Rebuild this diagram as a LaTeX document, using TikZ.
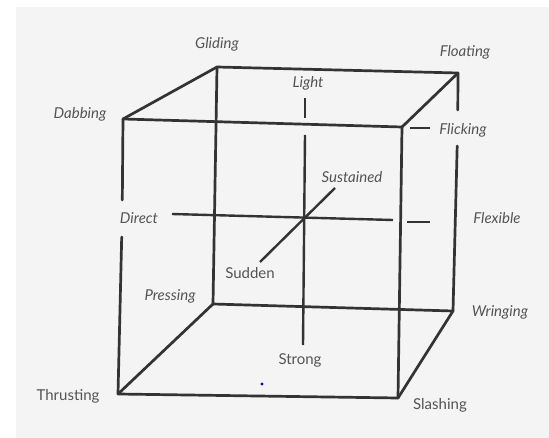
\documentclass[tikz,border=0pt]{standalone}
\usepackage{fontspec}
\setmainfont{Lato}
\usepackage{tikz}
\usetikzlibrary{calc}
\definecolor{edgegray}{rgb}{0.2, 0.2, 0.2}
\definecolor{labelgray}{rgb}{0.33, 0.33, 0.33}
\definecolor{paper}{rgb}{0.955, 0.955, 0.955}
\tikzstyle{edge} = [line width=2.7pt, edgegray, line cap=round]
\tikzstyle{axis} = [line width=2.4pt, edgegray]
\tikzstyle{effort} = [inner sep=1pt, text=labelgray, font=\fontsize{15}{17}\selectfont\itshape]
\tikzstyle{effortup} = [inner sep=1pt, text=labelgray, font=\fontsize{15}{17}\selectfont]

\begin{document}
\begin{tikzpicture}[x=1pt,y=-1pt]
% Paper
    \useasboundingbox (0,0) rectangle (549,438);
    \fill[white] (0,0) rectangle (549,438);
    \fill[paper] (16,7) rectangle (549,438);

    % Cube corners
    \coordinate (dab) at (123,119);
    \coordinate (flick) at (402,127);
    \coordinate (glide) at (217,67);
    \coordinate (float) at (458,73);
    \coordinate (thrust) at (118,394);
    \coordinate (slash) at (398,398);
    \coordinate (press) at (213,304);
    \coordinate (wring) at (453,311);

    % Corner labels
    \node (gliding) at (217,44) [effort] {Gliding};
    \node (dabbing) at (80,114) [effort] {Dabbing};
    \node (floating) at (465,52) [effort] {Floating};
    \node (flicking) at (463,130) [effort] {Flicking};
    \node (pressing) at (170,296) [effort] {Pressing};
    \node (wringing) at (500,312) [effort] {Wringing};
    \node (thrusting) at (68,396) [effortup] {Thrusting};
    \node (slashing) at (440,405) [effortup] {Slashing};

    % Axis labels
    \node (light) at (308,83) [effort] {Light};
    \node (strong) at (300,360) [effortup] {Strong};
    \node (direct) at (139,218) [effort] {Direct};
    \node (flexible) at (497,218) [effort] {Flexible};
    \node (sustained) at (352,177) [effort] {Sustained};
    \node (sudden) at (250,273) [effortup] {Sudden};

    % Cube edges
    \draw[edge] (glide) -- (float);
    \draw[edge] (dab) -- (glide);
    \draw[edge] (flick) -- (float);
    \draw[edge] (dab) -- (flick);
    \draw[edge] (glide) -- (press);
    \draw[edge] (press) -- (wring);
    \draw[edge] (press) -- (thrust);
    \draw[edge] (thrust) -- (slash);
    \draw[edge] (slash) -- (wring);
    \draw[edge] (flick) -- (slash);

    % Edges broken by labels
    \coordinate (dabgap1) at (122.3,200);
    \coordinate (dabgap2) at (121.7,237);
    \draw[edge] (dab) -- (dabgap1);
    \draw[edge] (dabgap2) -- (thrust);
    \coordinate (floatgap1) at (457.8,110);
    \coordinate (floatgap2) at (457.2,146);
    \draw[edge] (float) -- (floatgap1);
    \draw[edge] (floatgap2) -- (wring);
    \coordinate (leader) at (410,128);
    \coordinate (leaderend) at (430,128);
    \draw[axis, line width=1.6pt] (leader) -- (leaderend);

    % Light - Strong
    \coordinate (lightend) at (305,98);
    \coordinate (lightgap) at (305,118);
    \coordinate (stronggap) at (305,135);
    \coordinate (strongend) at (303,345);
    \draw[axis] (lightend) -- (lightgap);
    \draw[axis] (stronggap) -- (strongend);

    % Direct - Flexible
    \coordinate (directend) at (172,214);
    \coordinate (directgap) at (393,220);
    \coordinate (flexgap) at (407,222);
    \coordinate (flexend) at (430,222);
    \draw[axis] (directend) -- (directgap);
    \draw[axis] (flexgap) -- (flexend);

    % Sustained - Sudden
    \coordinate (sustend) at (335,188);
    \coordinate (suddend) at (260,262);
    \draw[axis] (sustend) -- (suddend);

    % Stray dot
    \fill[blue!75!black] (262,384) circle (1.6);

\end{tikzpicture}
\end{document}
